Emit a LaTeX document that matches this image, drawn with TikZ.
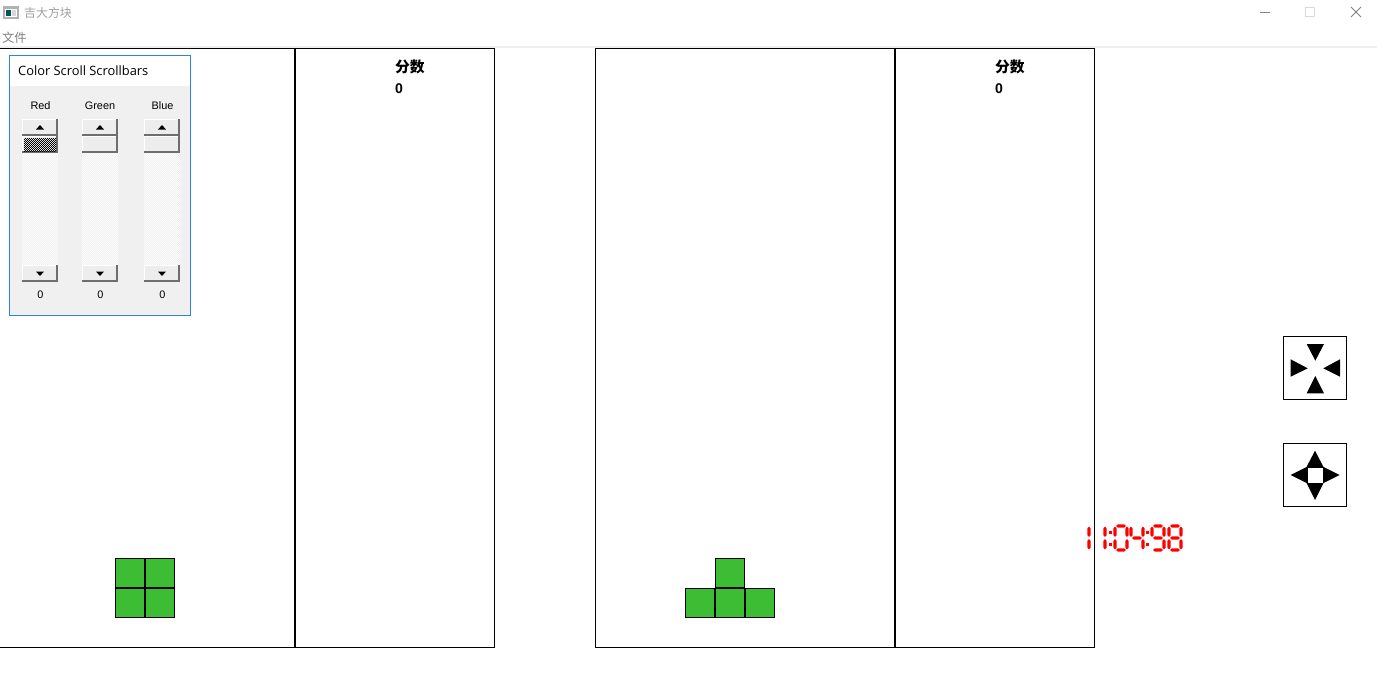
\documentclass[tikz,border=0pt]{standalone}
\usepackage{fontspec}
\setmainfont{Liberation Sans}
\newfontfamily\cjk{Noto Sans CJK SC}
\newfontfamily\uifont{Open Sans}
\usetikzlibrary{patterns}
\definecolor{blockgreen}{HTML}{3DBD33}
\definecolor{winblue}{HTML}{2B86D3}
\definecolor{panelgray}{HTML}{F0F0F0}
\definecolor{facegray}{HTML}{EDEDED}
\definecolor{titlegray}{HTML}{A0A0A0}
\definecolor{bevelgray}{HTML}{6E6E6E}
% tablero de ajedrez de un pixel
\pgfdeclarepatternformonly{pixelcheck}{\pgfqpoint{0pt}{0pt}}{\pgfqpoint{2.845pt}{2.845pt}}{\pgfqpoint{2.845pt}{2.845pt}}{
  \pgfpathrectangle{\pgfqpoint{0pt}{0pt}}{\pgfqpoint{1.4225pt}{1.4225pt}}
  \pgfpathrectangle{\pgfqpoint{1.4225pt}{1.4225pt}}{\pgfqpoint{1.4225pt}{1.4225pt}}
  \pgfusepath{fill}
}
\tikzset{
  board/.style={draw=black, line width=1.42pt},
  cell/.style={draw=black, fill=blockgreen, line width=1.42pt},
  padbox/.style={draw=black, fill=white, line width=1.42pt},
  lcdseg/.style={fill=red},
  uitext/.style={inner sep=0pt, font=\fontsize{15.5}{18}\selectfont},
  scoretext/.style={inner sep=0pt, anchor=west}
}
% segmentos del reloj
\newcommand{\vseg}[3]{\fill[lcdseg] (#1,#2) -- (#1+1.7,#2+2) -- (#1+1.7,#3-2) -- (#1,#3) -- (#1-1.7,#3-2) -- (#1-1.7,#2+2) -- cycle;}
\newcommand{\hseg}[3]{\fill[lcdseg] (#1,#3) -- (#1+2,#3-1.7) -- (#2-2,#3-1.7) -- (#2,#3) -- (#2-2,#3+1.7) -- (#1+2,#3+1.7) -- cycle;}
\newcommand{\sega}[1]{\hseg{#1+2}{#1+12}{526}}
\newcommand{\segb}[1]{\vseg{#1+13}{526.5}{537}}
\newcommand{\segc}[1]{\vseg{#1+13}{539}{549.5}}
\newcommand{\segd}[1]{\hseg{#1+2}{#1+12}{550}}
\newcommand{\sege}[1]{\vseg{#1+1}{539}{549.5}}
\newcommand{\segf}[1]{\vseg{#1+1}{526.5}{537}}
\newcommand{\segg}[1]{\hseg{#1+2}{#1+12}{538}}
% boton de la barra
\newcommand{\barbutton}[4]{
  \fill[facegray] (#1,#2) rectangle (#3,#4);
  \draw[white, line width=1.42pt] (#1+0.5,#4-1) -- (#1+0.5,#2+0.5) -- (#3-1,#2+0.5);
  \draw[bevelgray, line width=2.4pt] (#1,#4-1) -- (#3-1,#4-1) -- (#3-1,#2);
}
% barra completa
\newcommand{\scrollbar}[1]{
  \fill[white] (#1,119) rectangle (#1+36,282);
  \fill[pattern=pixelcheck, pattern color=panelgray] (#1,119) rectangle (#1+36,282);
  \barbutton{#1}{119}{#1+36}{136}
  \fill[black] (#1+14,129.5) -- (#1+22,129.5) -- (#1+18,125) -- cycle;
  \barbutton{#1}{136}{#1+36}{153}
  \barbutton{#1}{265}{#1+36}{282}
  \fill[black] (#1+14,271.5) -- (#1+22,271.5) -- (#1+18,276) -- cycle;
}
\begin{document}
\begin{tikzpicture}[x=0.05cm, y=-0.05cm]
  \useasboundingbox (0,0) rectangle (1377,686);
  \fill[white] (0,0) rectangle (1377,686);

  % Barra de titulo
  \fill[gray!60] (3,6) rectangle (19,19);
  \fill[white] (5,9) rectangle (17,17);
  \fill[teal!70!black] (6,10) rectangle (11,16);
  \fill[gray!30] (12,10) rectangle (16,16);
  \node[uitext, anchor=west, text=titlegray, font=\cjk\fontsize{17}{18}\selectfont] (wintitle) at (24,13) {吉大方块};
  \node[uitext, anchor=west, text=gray, font=\cjk\fontsize{17.5}{18}\selectfont] (filemenu) at (2,38) {文件};
  \draw[gray, line width=1.42pt] (1260,12.5) -- (1270,12.5);
  \draw[gray!30, line width=1.42pt] (1305.5,7.5) rectangle (1314.5,16.5);
  \draw[gray, line width=1.42pt] (1351,7) -- (1361,17) (1351,17) -- (1361,7);
  \fill[panelgray] (0,46) rectangle (1377,48);

  % Tablero izquierdo
  \draw[board] (0,48.5) -- (494.5,48.5) -- (494.5,647.5) -- (0,647.5);
  \draw[board, line width=2.84pt] (295,48) -- (295,648);
  \node[scoretext, font=\cjk\fontsize{21}{24}\selectfont\bfseries] (scorea) at (395,66.5) {分数};
  \node[scoretext, font=\fontsize{20}{22}\selectfont\bfseries] (valuea) at (395,88.5) {0};

  % Tablero derecho
  \draw[board] (595.5,48.5) rectangle (1094.5,647.5);
  \draw[board, line width=2.84pt] (895,48) -- (895,648);
  \node[scoretext, font=\cjk\fontsize{21}{24}\selectfont\bfseries] (scoreb) at (995,66.5) {分数};
  \node[scoretext, font=\fontsize{20}{22}\selectfont\bfseries] (valueb) at (995,88.5) {0};

  % Pieza cuadrada
  \draw[cell] (115.5,558.5) rectangle (144.5,587.5);
  \draw[cell] (145.5,558.5) rectangle (174.5,587.5);
  \draw[cell] (115.5,588.5) rectangle (144.5,617.5);
  \draw[cell] (145.5,588.5) rectangle (174.5,617.5);

  % Pieza en T
  \draw[cell] (715.5,558.5) rectangle (744.5,587.5);
  \draw[cell] (685.5,588.5) rectangle (714.5,617.5);
  \draw[cell] (715.5,588.5) rectangle (744.5,617.5);
  \draw[cell] (745.5,588.5) rectangle (774.5,617.5);

  % Reloj digital
  \segb{1076}\segc{1076}
  \segb{1092}\segc{1092}
  \fill[lcdseg] (1109,530.5) rectangle (1112,533.5);
  \fill[lcdseg] (1109,543) rectangle (1112,546);
  \sega{1114}\segb{1114}\segc{1114}\segd{1114}\sege{1114}\segf{1114}
  \segb{1130}\segc{1130}\segf{1130}\segg{1130}
  \fill[lcdseg] (1146,530.5) rectangle (1149,533.5);
  \fill[lcdseg] (1146,543) rectangle (1149,546);
  \sega{1151}\segb{1151}\segc{1151}\segd{1151}\segf{1151}\segg{1151}
  \sega{1168}\segb{1168}\segc{1168}\segd{1168}\sege{1168}\segf{1168}\segg{1168}

  % Botones de la derecha
  \draw[padbox] (1283.5,336.5) rectangle (1346.5,399.5);
  \fill[black] (1306.7,344) -- (1324,344) -- (1315.3,360.7) -- cycle;
  \fill[black] (1290.7,359.3) -- (1290.7,376.7) -- (1307.7,368.3) -- cycle;
  \fill[black] (1340,359.3) -- (1340,376.7) -- (1323.3,368.3) -- cycle;
  \fill[black] (1306.7,393.3) -- (1324,393.3) -- (1315.3,376) -- cycle;

  \draw[padbox] (1283.5,443.5) rectangle (1346.5,506.5);
  \fill[black] (1315,450.7) -- (1323.5,467) -- (1339.7,475) -- (1323.5,483) -- (1315,500) -- (1306.5,483) -- (1290.7,475) -- (1306.5,467) -- cycle;
  \fill[white] (1307.5,468) rectangle (1322.5,482.5);

  % Ventana de color
  \fill[panelgray] (9.5,55.5) rectangle (190.5,315.5);
  \fill[white] (9.5,55.5) rectangle (190.5,86);
  \draw[winblue, line width=1.42pt] (9.5,55.5) rectangle (190.5,315.5);
  \node[uitext, anchor=west, font=\uifont\fontsize{18.3}{20}\selectfont] (colortitle) at (18,71) {Color Scroll Scrollbars};
  \node[uitext] (redlabel) at (40.5,105.5) {Red};
  \node[uitext] (greenlabel) at (100,105.5) {Green};
  \node[uitext] (bluelabel) at (162.5,105.5) {Blue};
  \scrollbar{22}
  \scrollbar{82}
  \scrollbar{144}
  % cursor rojo activo
  \fill[white] (24,138) rectangle (56,151);
  \fill[pattern=pixelcheck, pattern color=black] (24,138) rectangle (56,151);
  \node[uitext] (redvalue) at (40.5,295) {0};
  \node[uitext] (greenvalue) at (100.5,295) {0};
  \node[uitext] (bluevalue) at (162.5,295) {0};
\end{tikzpicture}
\end{document}
